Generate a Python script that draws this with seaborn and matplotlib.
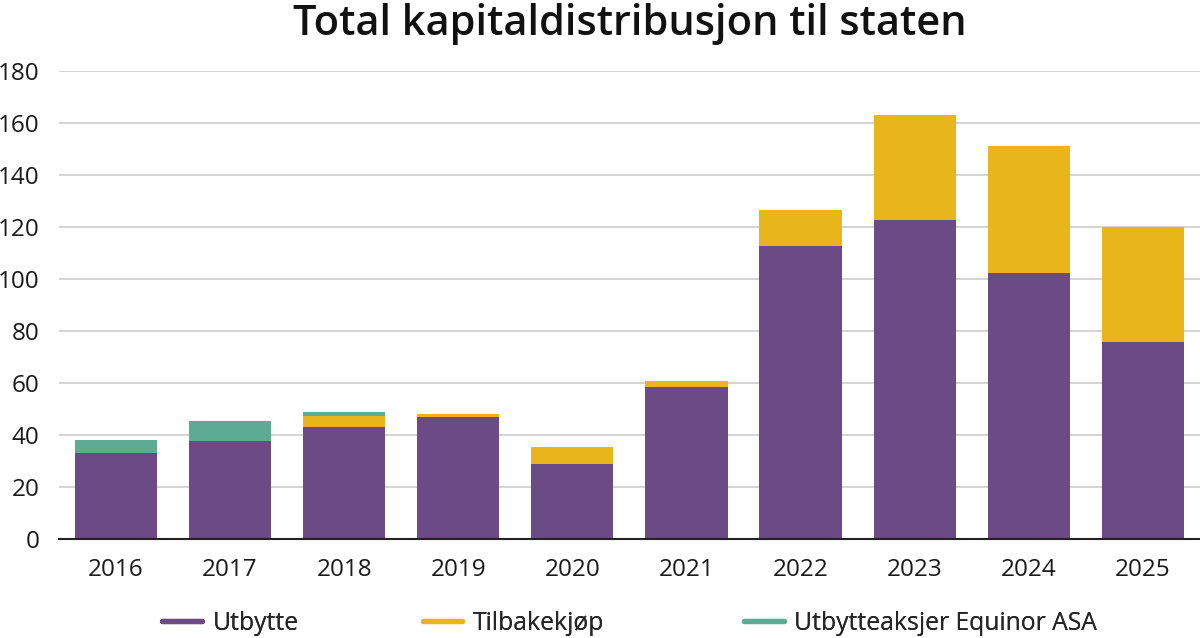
import numpy as np
import pandas as pd
import matplotlib
matplotlib.use("Agg")
import matplotlib.pyplot as plt
from matplotlib.lines import Line2D
import seaborn as sns

years = ["2016", "2017", "2018", "2019", "2020", "2021", "2022", "2023", "2024", "2025"]
utbytte = [33.2, 37.8, 43.0, 46.8, 29.0, 58.6, 112.8, 122.8, 102.3, 75.6]
tilbakekjop = [0.0, 0.0, 4.3, 1.3, 6.3, 2.0, 13.7, 40.4, 48.7, 44.5]
equinor = [4.9, 7.5, 1.5, 0.0, 0.0, 0.0, 0.0, 0.0, 0.0, 0.0]
series_names = ["Utbytte", "Tilbakekjøp", "Utbytteaksjer Equinor ASA"]
colors = ["#6C4A85", "#E8B51A", "#5EAB94"]
yticks = [0, 20, 40, 60, 80, 100, 120, 140, 160, 180]

sns.set_theme(style="white")
plt.rcParams['font.family'] = ['Open Sans', 'DejaVu Sans']

fig = plt.figure(figsize=(12, 6.38), dpi=100)
ax = fig.add_axes([0.049, 0.155, 0.951, 0.734])

df = pd.DataFrame({"year": years, "u": utbytte, "t": tilbakekjop, "e": equinor})
b1 = np.array(utbytte)
b2 = b1 + np.array(tilbakekjop)

sns.barplot(data=df, x="year", y="u", color=colors[0], width=0.72,
            saturation=1, ax=ax, linewidth=0, zorder=3)
sns.barplot(data=df, x="year", y="t", color=colors[1], width=0.72,
            saturation=1, ax=ax, linewidth=0, bottom=b1, zorder=3)
sns.barplot(data=df, x="year", y="e", color=colors[2], width=0.72,
            saturation=1, ax=ax, linewidth=0, bottom=b2, zorder=3)

ax.set_xlim(-0.5, 9.5)
ax.set_ylim(0, 180)
ax.set_yticks(yticks)
ax.set_yticklabels([str(v) for v in yticks])
ax.set_xlabel("")
ax.set_ylabel("")
ax.yaxis.grid(True, color="#CCCCCC", linewidth=1.2, zorder=0)
ax.xaxis.grid(False)
ax.set_axisbelow(True)
for s in ["top", "right", "left"]:
    ax.spines[s].set_visible(False)
ax.spines["bottom"].set_color("#222222")
ax.spines["bottom"].set_linewidth(1.5)
ax.spines["bottom"].set_zorder(5)
ax.tick_params(axis="both", length=0, labelsize=17.5, colors="#1a1a1a")
ax.tick_params(axis="y", pad=14)
ax.tick_params(axis="x", pad=13.5)

fig.suptitle("Total kapitaldistribusjon til staten", x=0.525, y=0.995,
             fontsize=29.9, fontweight="semibold", color="#111111", va="top")

# one legend entry per series, placed like the reference
legend_x = [0.1354, 0.3521, 0.6204]
for c, name, lx in zip(colors, series_names, legend_x):
    h = Line2D([0], [0], color=c, lw=3.8, solid_capstyle="round")
    leg = fig.legend([h], [name], loc="center left", bbox_to_anchor=(lx, 0.023),
                     frameon=False, fontsize=17.8, handlelength=1.6,
                     handletextpad=0.42, borderpad=0, borderaxespad=0)
    fig.add_artist(leg)

fig.savefig("out.png", dpi=100)
